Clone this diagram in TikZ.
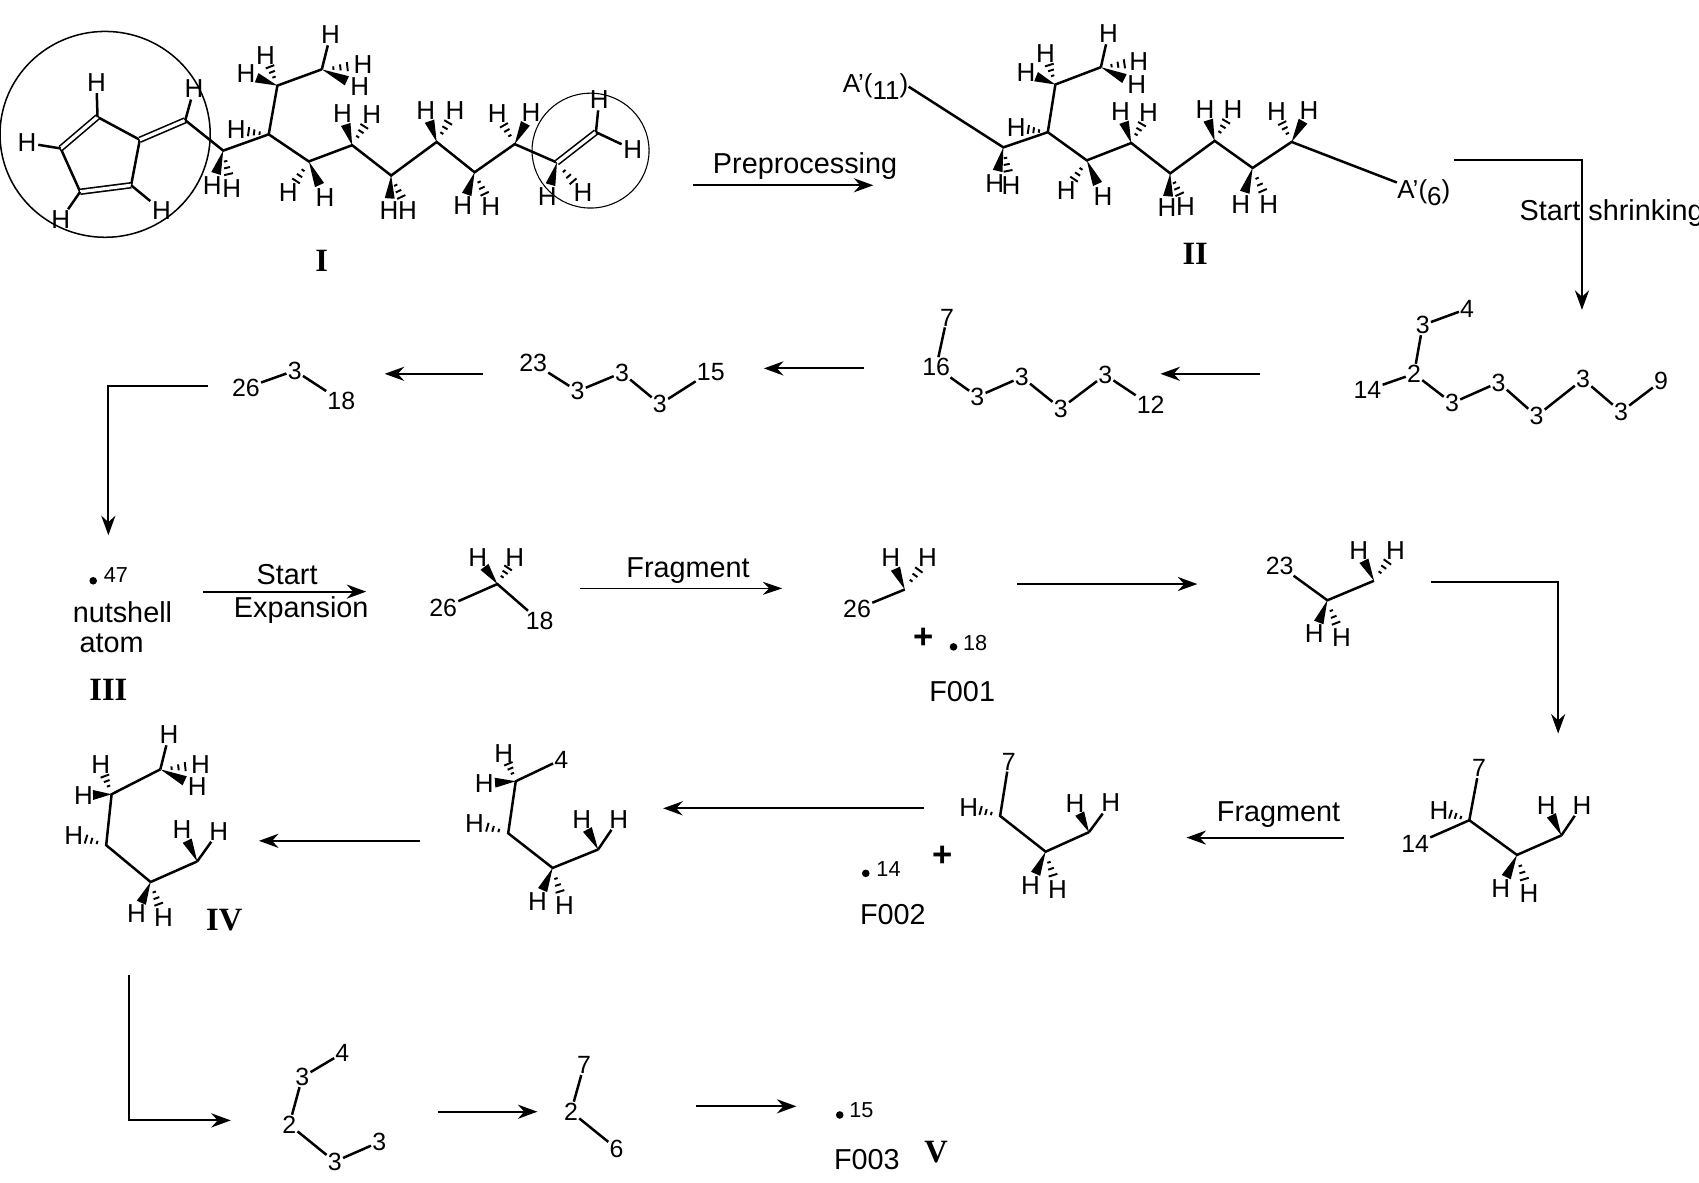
\documentclass[tikz,border=0pt]{standalone}
\usepackage{fontspec}
\setmainfont{Liberation Sans}
\newfontfamily\romanfont{Liberation Serif}
\usetikzlibrary{calc,arrows.meta,shapes.geometric}

\tikzset{
    bond/.style={line width=1.15pt},
    dbond/.style={double,double distance=1.5pt,line width=.75pt},
    hashline/.style={line width=.9pt},
    hatom/.style={font=\fontsize{12}{12}\selectfont,inner sep=.6pt},
    numlab/.style={font=\fontsize{11.5}{12}\selectfont,inner sep=.4pt},
    smalllab/.style={font=\fontsize{10}{12}\selectfont,inner sep=0pt},
    steplab/.style={font=\fontsize{13.3}{14}\selectfont,inner sep=0pt},
    pluslab/.style={font=\bfseries\fontsize{16}{16}\selectfont,inner sep=0pt},
    romanlab/.style={font=\romanfont\bfseries\fontsize{15}{16}\selectfont,inner sep=0pt},
    rxn/.style={line width=1pt,-{Stealth[length=9pt,width=6.5pt]}},
    thinrxn/.style={line width=.5pt,-{Stealth[length=9pt,width=6pt]}},
    dotmark/.style={circle,fill,inner sep=0pt,minimum size=3.5pt},
    ringmark/.style={draw,ellipse,line width=.7pt}
}

\newcommand{\hplain}[2]{
    \node[hatom] (#1p) at (#2) {H};
    \draw[bond] (#1) -- (#1p);
}
\newcommand{\hwedge}[2]{
    \node[hatom] (#1w) at (#2) {H};
    \coordinate (tip) at ($(#1)!.66!(#1w)$);
    \fill (#1) -- ($(tip)!2.3pt!90:(#1)$) -- ($(tip)!2.3pt!-90:(#1)$) -- cycle;
}
\newcommand{\hhash}[2]{
    \node[hatom] (#1h) at (#2) {H};
    \foreach \t/\w in {.28/.8,.45/1.4,.62/2.1}{
        \coordinate (tip) at ($(#1)!\t!(#1h)$);
        \draw[hashline] ($(tip)!\w pt!90:(#1)$) -- ($(tip)!\w pt!-90:(#1)$);
    }
}

\begin{document}
\begin{tikzpicture}[x=.5pt,y=-.5pt]
    \useasboundingbox (0,0) rectangle (1568,1091);

    \foreach \n/\x/\y in {r1/90/108,r2/129/129,r3/121/171,r4/74/177,r5/56/137,
        a1/171/111,a2/206/139,a3/248/124,a4/256/79,a5/297/64,a6/285/149,a7/325/134,
        a8/361/162,a9/403/131,a10/438/159,a11/475/133,a12/514/150,a13/550/122,a13x/550/122}
        \coordinate (\n) at (\x,\y);
    \node[ringmark,minimum width=97pt,minimum height=95pt] (bigring) at (97,124) {};
    \node[ringmark,line width=.5pt,minimum width=54pt,minimum height=53pt] (endring) at (545,139) {};
    \draw[bond] (r1) -- (r2) -- (r3);
    \draw[bond] (r4) -- (r5);
    \draw[dbond] (r2) -- (a1);
    \draw[dbond] (r3) -- (r4);
    \draw[dbond] (r5) -- (r1);
    \draw[bond] (a1) -- (a2) -- (a3) -- (a6) -- (a7) -- (a8) -- (a9) -- (a10) -- (a11) -- (a12);
    \draw[bond] (a3) -- (a4) -- (a5);
    \draw[dbond] (a12) -- (a13);
    \hplain{r1}{89,76}
    \hplain{r5}{25,132}
    \hplain{r4}{56,203}
    \hplain{r3}{149,194}
    \hplain{a1}{179,82}
    \hwedge{a2}{196,171}
    \hhash{a2}{214,174}
    \hhash{a3}{218,120}
    \hhash{a4}{245,51}
    \hwedge{a4}{227,68}
    \hplain{a5}{305,32}
    \hhash{a5}{335,60}
    \hwedge{a5}{332,80}
    \hhash{a6}{266,178}
    \hwedge{a6}{300,182}
    \hwedge{a7}{316,105}
    \hhash{a7}{343,106}
    \hwedge{a8}{359,194}
    \hhash{a8}{376,194}
    \hwedge{a9}{393,102}
    \hhash{a9}{420,102}
    \hwedge{a10}{427,190}
    \hhash{a10}{453,191}
    \hhash{a11}{459,105}
    \hwedge{a11}{490,104}
    \hwedge{a12}{505,181}
    \hhash{a12}{538,178}
    \hplain{a13}{553,92}
    \hplain{a13x}{584,138}
    \node[romanlab] (molI) at (297,241) {I};

    \foreach \n/\x/\y in {b1/926/136,b2/967/122,b3/974/78,b4/1016/62,b5/1003/148,b6/1044/132,
        b7/1080/160,b8/1121/130,b9/1156/155,b10/1192/131}
        \coordinate (\n) at (\x,\y);
    \node[hatom,inner sep=0pt] (aleft) at (808,80) {A'(\raisebox{-3pt}{11})};
    \node[hatom,inner sep=0pt] (aright) at (1314,178) {A'(\raisebox{-3pt}{6})};
    \draw[bond] (aleft.east) -- (b1) -- (b2) -- (b5) -- (b6) -- (b7) -- (b8) -- (b9) -- (b10) -- (aright);
    \draw[bond] (b2) -- (b3) -- (b4);
    \hwedge{b1}{918,169}
    \hhash{b1}{933,171}
    \hhash{b2}{938,118}
    \hhash{b3}{965,49}
    \hwedge{b3}{947,67}
    \hplain{b4}{1023,31}
    \hhash{b4}{1051,57}
    \hwedge{b4}{1049,78}
    \hhash{b5}{984,176}
    \hwedge{b5}{1018,181}
    \hwedge{b6}{1034,103}
    \hhash{b6}{1060,104}
    \hwedge{b7}{1077,192}
    \hhash{b7}{1094,191}
    \hwedge{b8}{1112,101}
    \hhash{b8}{1138,101}
    \hwedge{b9}{1145,189}
    \hhash{b9}{1171,189}
    \hhash{b10}{1178,103}
    \hwedge{b10}{1208,102}
    \node[romanlab] (molII) at (1103,234) {II};

    \foreach \n/\x/\y/\t in {k1/1262/360/14,k2/1305/345/2,k3/1313/300/3,k4/1354/285/4,k5/1340/372/3,
        k6/1383/353/3,k7/1418/384/3,k8/1461/350/3,k9/1496/380/3,k10/1533/352/9,
        m1/874/293/7,m2/864/339/16,m3/902/366/3,m4/943/348/3,m5/979/377/3,m6/1020/346/3,m7/1062/374/12,
        n1/492/335/23,n2/533/361/3,n3/574/344/3,n4/609/373/3,n5/656/343/15,
        o1/227/358/26,o2/272/342/3,o3/315/370/18,
        p1/316/972/4,p2/279/994/3,p3/267/1038/2,p4/309/1072/3,p5/350/1054/3,
        q1/539/983/7,q2/527/1026/2,q3/569/1060/6,
        s1/409/561/26,s2/498/573/18,t1/791/562/26,u1/1181/522/23,v1/1365/709/7,v2/1306/779/14,
        w1/931/703/7,x1/518/701/4}
        \node[numlab] (\n) at (\x,\y) {\t};
    \draw[bond] (k1) -- (k2) -- (k5) -- (k6) -- (k7) -- (k8) -- (k9) -- (k10);
    \draw[bond] (k2) -- (k3) -- (k4);
    \draw[bond] (m1) -- (m2) -- (m3) -- (m4) -- (m5) -- (m6) -- (m7);
    \draw[bond] (n1) -- (n2) -- (n3) -- (n4) -- (n5);
    \draw[bond] (o1) -- (o2) -- (o3);
    \draw[bond] (p1) -- (p2) -- (p3) -- (p4) -- (p5);
    \draw[bond] (q1) -- (q2) -- (q3);

    \foreach \n/\x/\y in {c1/459/539,d1/835/544,e1/1225/554,e2/1268/536,f1/1356/757,f2/1400/789,
        f3/1441/771,g1/923/753,g2/965/786,g3/1005/768,h1/476/721,h2/469/769,h3/510/801,h4/552/784,
        i1/148/710,i2/103/733,i3/98/780,i4/139/814,i5/182/795}
        \coordinate (\n) at (\x,\y);
    \draw[bond] (s1) -- (c1) -- (s2);
    \hwedge{c1}{441,515}
    \hhash{c1}{475,515}
    \draw[bond] (t1) -- (d1);
    \hwedge{d1}{822,515}
    \hhash{d1}{856,515}
    \draw[bond] (u1) -- (e1) -- (e2);
    \hwedge{e1}{1213,585}
    \hhash{e1}{1238,588}
    \hwedge{e2}{1254,508}
    \hhash{e2}{1288,508}
    \draw[bond] (v1) -- (f1) -- (f2) -- (f3);
    \draw[bond] (f1) -- (v2);
    \hhash{f1}{1328,748}
    \hwedge{f2}{1385,820}
    \hhash{f2}{1411,825}
    \hwedge{f3}{1427,743}
    \hplain{f3}{1460,743}
    \draw[bond] (w1) -- (g1) -- (g2) -- (g3);
    \hhash{g1}{894,745}
    \hwedge{g2}{951,817}
    \hhash{g2}{976,821}
    \hwedge{g3}{992,742}
    \hplain{g3}{1025,741}
    \draw[bond] (x1) -- (h1) -- (h2) -- (h3) -- (h4);
    \hhash{h1}{465,695}
    \hwedge{h1}{447,723}
    \hhash{h2}{438,760}
    \hwedge{h3}{496,832}
    \hhash{h3}{521,836}
    \hwedge{h4}{537,756}
    \hplain{h4}{571,756}
    \draw[bond] (i1) -- (i2) -- (i3) -- (i4) -- (i5);
    \hplain{i1}{156,678}
    \hhash{i1}{185,706}
    \hwedge{i1}{182,726}
    \hhash{i2}{93,706}
    \hwedge{i2}{77,734}
    \hhash{i3}{68,771}
    \hwedge{i4}{126,843}
    \hhash{i4}{151,847}
    \hwedge{i5}{168,766}
    \hplain{i5}{202,767}

    \foreach \n/\ax/\ay/\bx/\by in {ar1/640/171/806/171,ar2/1163/345/1071/345,ar3/797/340/705/340,
        ar4/446/345/355/345,ar5/187/546/338/546,ar7/939/539/1105/539,ar8/1240/773/1095/773,
        ar9/853/746/612/746,ar10/388/776/239/776,ar11/404/1026/496/1026,ar12/642/1021/735/1021}{
        \coordinate (\n s) at (\ax,\ay);
        \coordinate (\n e) at (\bx,\by);
        \draw[rxn] (\n s) -- (\n e);
    }
    \coordinate (fr1) at (535,543);
    \coordinate (fr2) at (722,543);
    \draw[thinrxn] (fr1) -- (fr2);
    \foreach \n/\ax/\ay/\mx/\my/\bx/\by in {el1/1342/148/1460/148/1460/286,el2/192/356/100/356/100/494,
        el3/1321/537/1438/537/1438/677,el4/119/900/119/1034/213/1034}{
        \coordinate (\n s) at (\ax,\ay);
        \coordinate (\n m) at (\mx,\my);
        \coordinate (\n e) at (\bx,\by);
        \draw[rxn] (\n s) -- (\n m) -- (\n e);
    }

    \node[steplab] (prep) at (743,153) {Preprocessing};
    \node[steplab,anchor=west] (shrink) at (1402,197) {Start shrinking};
    \node[steplab] (startx) at (265,530) {Start};
    \node[steplab] (expan) at (278,563) {Expansion};
    \node[steplab] (frag1) at (635,527) {Fragment};
    \node[steplab] (frag2) at (1180,752) {Fragment};

    \node[dotmark] (dot47) at (86,536) {};
    \node[smalllab] (lab47) at (107,531) {47};
    \node[steplab] (nut) at (113,565) {nutshell};
    \node[steplab] (atom) at (103,594) {atom};
    \node[romanlab] (molIII) at (100,637) {III};
    \node[pluslab] (plus1) at (852,589) {+};
    \node[dotmark] (dot18) at (880,597) {};
    \node[smalllab] (lab18) at (900,593) {18};
    \node[steplab] (f001) at (888,638) {F001};
    \node[pluslab] (plus2) at (870,790) {+};
    \node[dotmark] (dot14) at (799,806) {};
    \node[smalllab] (lab14) at (820,802) {14};
    \node[steplab] (f002) at (824,844) {F002};
    \node[romanlab] (molIV) at (207,849) {IV};
    \node[dotmark] (dot15) at (775,1029) {};
    \node[smalllab] (lab15) at (795,1025) {15};
    \node[steplab] (f003) at (800,1070) {F003};
    \node[romanlab] (molV) at (864,1063) {V};
\end{tikzpicture}
\end{document}
